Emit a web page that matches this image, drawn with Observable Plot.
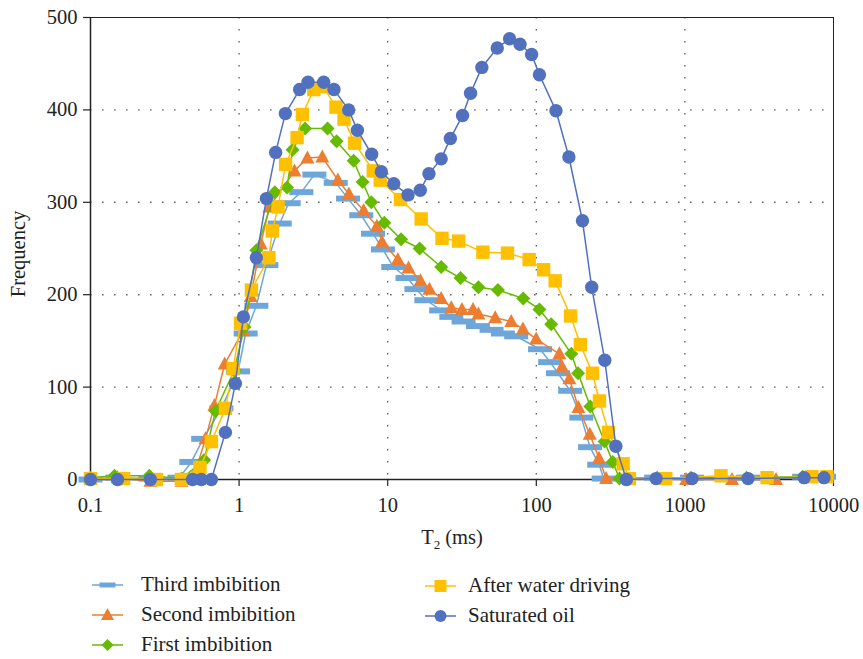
<!DOCTYPE html>
<html><head><meta charset="utf-8">
<script src="https://cdn.jsdelivr.net/npm/d3@7"></script>
<script src="https://cdn.jsdelivr.net/npm/@observablehq/plot@0.6"></script>
<style>
body{margin:0;background:#fff;font-family:"Liberation Serif","Tinos","Times New Roman","DejaVu Serif",serif;}
#wrap{position:relative;width:863px;height:659px;}
#legend{position:absolute;left:0;top:560px;width:863px;height:99px;}
.li{position:absolute;font-size:21px;color:#222;white-space:nowrap;line-height:1;}
</style>
</head><body><div id="wrap"><div id="chart"></div><div id="legend"></div></div>
<script>
// ---- data (T2 in ms, frequency) ----
const xTicks = [0.1, 1, 10, 100, 1000, 10000];
const yTicks = [0, 100, 200, 300, 400, 500];

const T3 = [0.1,0.152,0.253,0.397,0.477,0.573,0.76,0.984,1.107,1.307,1.527,1.876,2.156,2.624,3.21,4.47,5.41,6.64,7.96,9.29,10.9,13.6,15.6,18.2,22.9,26.8,32.4,40.5,50,59.6,73.2,106,124,140,169,201,230,265,284,640,1117,2660,6340,8630];
const F3 = [0,2,1,2,19,44,77,117,158,188,232,277,299,311,330,321,304,286,266,249,230,218,206,194,183,176,171,166,162,158,155,141,127,115,96,67,35,16,1,2,2,2,3,3];

const T2s = [0.1,0.152,0.253,0.41,0.5,0.594,0.682,0.8,1.064,1.197,1.4,1.6,2.36,2.88,3.63,4.62,5.48,6.89,8.45,9.16,11.7,13.8,16.6,19.1,22.9,26.8,31.6,37.5,40.8,52.9,67.8,81.3,99.8,143,149,167,192,229,264,295,1019,2075,4105];
const F2s = [1,2,-2,-2,5,44,80,125,161,198,255,295,334,348,349,324,309,291,274,257,238,229,215,206,196,186,184,184,179,175,171,163,152,136,122,109,78,49,23,1,0,0,0];

const T1 = [0.1,0.145,0.249,0.41,0.582,0.693,0.927,1.086,1.307,1.74,2.10,2.29,2.78,3.94,4.53,5.90,6.78,7.76,9.49,12.3,16.4,22.9,30.9,40.8,55.2,81.7,105,126,172,191,231,288,327,363,650,1100,2600,6200,8700];
const F1 = [2,4,4,1,21,74,118,165,248,311,316,357,380,380,366,345,322,300,278,260,250,230,218,208,205,196,184,168,136,115,79,41,19,1,2,2,2,3,3];

const TA = [0.1,0.167,0.278,0.409,0.545,0.651,0.809,0.912,1.023,1.21,1.586,1.675,1.829,2.055,2.456,2.665,3.18,3.69,4.49,5.08,5.99,8.0,8.91,12.2,16.8,23.2,30.0,43.7,64.0,89.5,112,134,170,198,239,266,306,384,423,743,1750,3570,7160,9040];
const FA = [1,1,0,0,13,41,77,120,169,205,240,269,295,341,370,395,422,425,403,390,364,334,324,303,282,261,258,246,245,238,227,215,177,146,115,85,51,17,1,1,4,2,3,3];

const TS = [0.1,0.152,0.253,0.486,0.557,0.651,0.809,0.944,1.069,1.307,1.527,1.762,2.048,2.556,2.91,3.71,4.35,5.46,6.25,7.8,9.06,10.99,13.7,16.56,18.95,22.9,26.4,31.9,36.1,43.0,54.6,66.1,77.7,93.0,105,135.6,165.7,204.5,236,289,343,404,640,1117,2660,6340,8630];
const FS = [0,0,0,0,0,0,51,104,176,240,304,354,396,422,430,430,422,400,378,352,333,320,308,313,331,347,369,394,418,446,467,477,471,460,438,399,349,280,208,129,36,0,1,1,1,2,2];

const names = ["Third imbibition","Second imbibition","First imbibition","After water driving","Saturated oil"];

const FONT = "'Liberation Serif', Tinos, 'Times New Roman', 'DejaVu Serif', serif";

// ---- styles ----
const dashSym = {draw(c){c.rect(-12,-3,24,6);}};
const squareSym = {draw(c){c.rect(-6.7,-6.7,13.4,13.4);}};
const triSym = {draw(c){c.moveTo(0,-7.5);c.lineTo(7,5.5);c.lineTo(-7,5.5);c.closePath();}};
const diamondSym = {draw(c){c.moveTo(0,-7);c.lineTo(7,0);c.lineTo(0,7);c.lineTo(-7,0);c.closePath();}};
const circleSym = {draw(c){c.moveTo(6.7,0);c.arc(0,0,6.7,0,2*Math.PI);}};

const dashL = {draw(c){c.rect(-8,-2.5,16,5);}};
const squareL = {draw(c){c.rect(-6,-6,12,12);}};
const triL = {draw(c){c.moveTo(0,-7);c.lineTo(6.5,5);c.lineTo(-6.5,5);c.closePath();}};
const diamondL = {draw(c){c.moveTo(0,-6);c.lineTo(6,0);c.lineTo(0,6);c.lineTo(-6,0);c.closePath();}};
const circleL = {draw(c){c.moveTo(6,0);c.arc(0,0,6,0,2*Math.PI);}};

const series = [
  {name:names[0], T:T3, F:F3, color:"#6fa6da", sym:dashSym, lsym:dashL},
  {name:names[1], T:T2s, F:F2s, color:"#ed7d31", sym:triSym, lsym:triL},
  {name:names[2], T:T1, F:F1, color:"#66bb00", sym:diamondSym, lsym:diamondL},
  {name:names[3], T:TA, F:FA, color:"#ffc000", sym:squareSym, lsym:squareL},
  {name:names[4], T:TS, F:FS, color:"#5171bf", sym:circleSym, lsym:circleL}
];

const seriesMarks = [];
for (const s of series) {
  const data = s.T.map((t,i)=>({t, f:s.F[i]}));
  seriesMarks.push(Plot.line(data,{x:"t",y:"f",stroke:s.color,strokeWidth:1.5}));
  seriesMarks.push(Plot.dot(data,{x:"t",y:"f",fill:s.color,stroke:"none",symbol:s.sym,r:7}));
}

const fmt = d => String(d);

const svg = Plot.plot({
  width:863, height:560,
  marginLeft:90, marginRight:30, marginTop:17, marginBottom:81,
  style:{fontFamily:FONT, fontSize:"20.5px", color:"#222", background:"#fff"},
  x:{type:"log", domain:[0.1,10000]},
  y:{domain:[0,500]},
  marks:[
    Plot.ruleX([1,10,100,1000],{stroke:"#666",strokeWidth:1.4,strokeDasharray:"1.6,10.4"}),
    Plot.ruleY([100,200,300,400],{stroke:"#666",strokeWidth:1.4,strokeDasharray:"1.6,10.4"}),
    Plot.ruleY([500],{stroke:"#222",strokeWidth:1}),
    Plot.ruleX([10000],{stroke:"#222",strokeWidth:1}),
    Plot.axisX({ticks:xTicks, tickFormat:fmt, tickSize:7, tickPadding:11, label:null, stroke:"#222", strokeWidth:1.2}),
    Plot.axisY({ticks:yTicks, tickFormat:fmt, tickSize:7, tickPadding:6, label:null, stroke:"#222", strokeWidth:1.2}),
    Plot.ruleY([0],{stroke:"#222",strokeWidth:1.5}),
    Plot.ruleX([0.1],{stroke:"#222",strokeWidth:1.5}),
    ...seriesMarks
  ]
});
document.getElementById("chart").appendChild(svg);

const s = d3.select(svg);
const xl = s.append("text").attr("x",452).attr("y",544).attr("text-anchor","middle")
  .style("font-family",FONT).attr("font-size",20.5).attr("fill","#222");
xl.append("tspan").text("T");
xl.append("tspan").attr("font-size",13).attr("dy",5).text("2");
xl.append("tspan").attr("dy",-5).text(" (ms)");
s.append("text").attr("transform","translate(25,254) rotate(-90)").attr("text-anchor","middle")
  .style("font-family",FONT).attr("font-size",20.5).attr("fill","#222").text("Frequency");

// ---- legend ----
const pos = [[92,585,141],[92,615,141],[92,645,141],[425,586,468],[425,616,468]];
const leg = document.getElementById("legend");
series.forEach((sr,i)=>{
  const [lx,ly,tx] = pos[i];
  const y0 = ly - 560;
  const ns = "http://www.w3.org/2000/svg";
  const sv = document.createElementNS(ns,"svg");
  sv.setAttribute("width",34); sv.setAttribute("height",20);
  sv.style.position="absolute"; sv.style.left=(lx-1)+"px"; sv.style.top=(y0-10)+"px";
  const ln = document.createElementNS(ns,"line");
  ln.setAttribute("x1",1); ln.setAttribute("x2",32); ln.setAttribute("y1",10); ln.setAttribute("y2",10);
  ln.setAttribute("stroke",sr.color); ln.setAttribute("stroke-width",1.5);
  sv.appendChild(ln);
  const p = d3.path(); sr.lsym.draw(p);
  const pe = document.createElementNS(ns,"path");
  pe.setAttribute("d",p.toString()); pe.setAttribute("fill",sr.color);
  pe.setAttribute("transform","translate(16.5,10)");
  sv.appendChild(pe);
  leg.appendChild(sv);
  const t = document.createElement("div");
  t.className="li"; t.textContent=sr.name; t.style.fontFamily=FONT;
  t.style.left=tx+"px"; t.style.top=(y0-11)+"px";
  leg.appendChild(t);
});
</script></body></html>
